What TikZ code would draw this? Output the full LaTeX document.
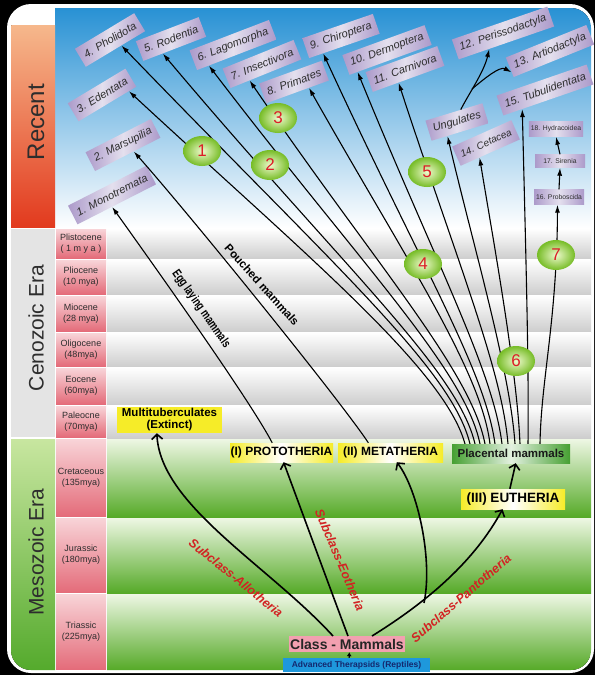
\documentclass[tikz,border=0pt]{standalone}
\usepackage{fontspec}
\setmainfont{Liberation Sans}
\usetikzlibrary{shapes.geometric,arrows.meta,calc}
\newcommand\myfs[1]{\fontsize{#1}{#1}\selectfont}
\definecolor{skyT}{RGB}{40,145,212}
\definecolor{skyM}{RGB}{130,190,232}
\definecolor{recT}{RGB}{246,184,140}
\definecolor{recB}{RGB}{226,58,30}
\definecolor{cenL}{RGB}{228,228,228}
\definecolor{mesT}{RGB}{200,230,160}
\definecolor{mesB}{RGB}{84,170,44}
\definecolor{pinkT}{RGB}{248,212,216}
\definecolor{pinkB}{RGB}{228,108,122}
\definecolor{grayB}{RGB}{205,205,205}
\definecolor{grnT}{RGB}{238,247,228}
\definecolor{grnM}{RGB}{160,210,110}
\definecolor{grnB}{RGB}{86,170,40}
\definecolor{lavD}{RGB}{172,154,202}
\definecolor{lavL}{RGB}{228,224,238}
\definecolor{ballI}{RGB}{238,250,205}
\definecolor{ballO}{RGB}{118,188,38}
\definecolor{numred}{RGB}{220,30,40}
\definecolor{ylw}{RGB}{246,236,40}
\definecolor{plg}{RGB}{70,160,50}
\definecolor{clspink}{RGB}{242,160,176}
\definecolor{thblue}{RGB}{30,152,220}
\definecolor{thtext}{RGB}{20,40,110}
\definecolor{subred}{RGB}{210,35,35}
\definecolor{txtg}{RGB}{45,45,45}
\begin{document}
\begin{tikzpicture}[x=1pt,y=-1pt,
  lbl/.style={left color=lavD, right color=lavD, middle color=lavL, text=txtg,
    font=\itshape\myfs{11}, inner xsep=5pt, inner ysep=0pt, minimum height=21pt},
  sbox/.style={left color=lavD, right color=lavD, middle color=lavL, text=txtg,
    font=\myfs{6.8}, inner xsep=2pt, inner ysep=0pt, minimum width=50pt, minimum height=15pt},
  circ/.style={ellipse, inner color=ballI, outer color=ballO, minimum width=38pt,
    minimum height=30pt, inner sep=0pt, text=numred, font=\myfs{17}},
  fan/.style={line width=1.1pt, -{Latex[length=8pt,width=5pt]}},
  thk/.style={line width=1.6pt, -{Straight Barb[length=5pt,width=11pt,line width=1.6pt]}},
  ybox/.style={left color=ylw, right color=ylw, middle color=white, text=black,
    font=\bfseries\myfs{12}, inner sep=0pt, minimum height=19pt},
  stg/.style={align=center, font=\fontsize{9}{11}\selectfont, text=txtg, inner sep=0pt},
  era/.style={rotate=90, font=\myfs{21}, text=txtg},
  sub/.style={font=\bfseries\itshape\myfs{12.5}, text=subred, inner sep=0pt},
  mid/.style={font=\bfseries\myfs{10}, text=black, inner sep=0pt}]
\useasboundingbox (0,0) rectangle (595,675);
\fill[black] (0,0) rectangle (595,675);
\fill[white, rounded corners=24pt] (7,4) rectangle (594,673);
\begin{scope}
\clip[rounded corners=20pt] (11,8) rectangle (591,670);
% backgrounds
\fill[top color=skyT, middle color=skyM, bottom color=white] (55,8) rectangle (591,228);
\fill[top color=recT, bottom color=recB] (11,25) rectangle (55,227);
\fill[cenL] (11,229) rectangle (55,437);
\fill[top color=mesT, bottom color=mesB] (11,439) rectangle (55,670);
\foreach \a/\b in {228/259,259/295,295/332,332/367,367/405,405/438}{
  \fill[top color=pinkT, bottom color=pinkB] (56,\a+1) rectangle (106,\b-1);
  \fill[top color=white, bottom color=grayB] (107,\a+0.5) rectangle (591,\b);
}
\foreach \a/\b in {438/517,517/593,593/670}{
  \fill[top color=pinkT, bottom color=pinkB] (56,\a+1) rectangle (106,\b-1);
  \fill[top color=grnT, middle color=grnM, bottom color=grnB] (107,\a+1) rectangle (591,\b);
}
\end{scope}
% era labels
\node[era, font=\myfs{24}] (recent) at (36,122) {Recent};
\node[era] (ceno) at (36,328) {Cenozoic Era};
\node[era] (meso) at (36,552) {Mesozoic Era};
% stage labels
\node[stg] (st1) at (81,243.5) {Plistocene\\( 1 m y a )};
\node[stg] (st2) at (81,277) {Pliocene\\(10 mya)};
\node[stg] (st3) at (81,313.5) {Miocene\\(28 mya)};
\node[stg] (st4) at (81,349.5) {Oligocene\\(48mya)};
\node[stg] (st5) at (81,386) {Eocene\\(60mya)};
\node[stg] (st6) at (81,421.5) {Paleocne\\(70mya)};
\node[stg] (st7) at (81,477.5) {Cretaceous\\(135mya)};
\node[stg] (st8) at (81,555) {Jurassic\\(180mya)};
\node[stg] (st9) at (81,631.5) {Triassic\\(225mya)};
% order labels
\node[lbl, rotate=27] (mono) at (112,195) {1. Monotremata};
\node[lbl, rotate=27] (mars) at (123,145) {2. Marsupilia};
\node[lbl, rotate=31] (eden) at (102,95) {3. Edentata};
\node[lbl, rotate=31] (phol) at (110,40) {4. Pholidota};
\node[lbl, rotate=21] (rode) at (171,39) {5. Rodentia};
\node[lbl, rotate=21] (lago) at (233,45) {6. Lagomorpha};
\node[lbl, rotate=22] (inse) at (262,64) {7. Insectivora};
\node[lbl, rotate=20] (prim) at (294,82) {8. Primates};
\node[lbl, rotate=19] (chir) at (341,36) {9. Chiroptera};
\node[lbl, rotate=20] (derm) at (387,50) {10. Dermoptera};
\node[lbl, rotate=20] (carn) at (405,69) {11. Carnivora};
\node[lbl, rotate=19] (peri) at (503,33) {12. Perissodactyla};
\node[lbl, rotate=22] (arti) at (550,51) {13. Artiodactyla};
\node[lbl, rotate=24, font=\itshape\myfs{10}] (ceta) at (486,143) {14. Cetacea};
\node[lbl, rotate=19] (tubu) at (545,90) {15. Tubulidentata};
\node[lbl, rotate=17] (ungu) at (457,122) {Ungulates};
\node[sbox] (prob) at (559,197) {16. Proboscida};
\node[sbox, minimum height=13pt] (sire) at (560,161) {17. Sirenia};
\node[sbox] (hydr) at (556,129) {18. Hydracoidea};
% tips
\coordinate (tMono) at ($(mono.south west)!0.44!(mono.south east)$);
\coordinate (tMars) at ($(mars.south west)!0.59!(mars.south east)$);
\coordinate (tEden) at ($(eden.south west)!0.87!(eden.south east)$);
\coordinate (tPhol) at ($(phol.south west)!0.60!(phol.south east)$);
\coordinate (tRode) at ($(rode.south west)!0.31!(rode.south east)$);
\coordinate (tLago) at ($(lago.south west)!0.15!(lago.south east)$);
\coordinate (tInse) at ($(inse.south west)!0.27!(inse.south east)$);
\coordinate (tPrim) at ($(prim.south west)!0.68!(prim.south east)$);
\coordinate (tChir) at ($(chir.south west)!0.20!(chir.south east)$);
\coordinate (tDerm) at ($(derm.south west)!0.10!(derm.south east)$);
\coordinate (tCarn) at ($(carn.south west)!0.36!(carn.south east)$);
\coordinate (tUngu) at ($(ungu.south west)!0.28!(ungu.south east)$);
\coordinate (tCeta) at ($(ceta.south west)!0.32!(ceta.south east)$);
\coordinate (tTubu) at ($(tubu.south west)!0.21!(tubu.south east)$);
\coordinate (tProb) at ($(prob.south west)!0.47!(prob.south east)$);
\coordinate (tPeri) at ($(peri.south west)!0.32!(peri.south east)$);
\coordinate (tArti) at ($(arti.west)!0.5!(arti.south west)$);
\coordinate (uTop) at ($(ungu.north west)!0.62!(ungu.north east)$);
\coordinate (ubr) at (472,89);
% starts on placental
\coordinate (s1) at (465,444);
\coordinate (s2) at (470,444);
\coordinate (s3) at (475,444);
\coordinate (s4) at (480,444);
\coordinate (s5) at (485,444);
\coordinate (s6) at (490,444);
\coordinate (s7) at (495,444);
\coordinate (s8) at (502,444);
\coordinate (s9) at (508,444);
\coordinate (s10) at (515,444);
\coordinate (s11) at (520,444);
\coordinate (s12) at (528,444);
\coordinate (s13) at (540,444);
% fan lines
\draw[fan] (s1) .. controls (445,370) and (309,258) .. (tEden);
\draw[fan] (s2) .. controls (452,370) and (340,272) .. (tPhol);
\draw[fan] (s3) .. controls (458,370) and (345,270) .. (tRode);
\draw[fan] (s4) .. controls (465,370) and (362,266) .. (tLago);
\draw[fan] (s5) .. controls (471,370) and (374,263) .. (tInse);
\draw[fan] (s6) .. controls (481,370) and (405,258) .. (tPrim);
\draw[fan] (s7) .. controls (485,370) and (423,270) .. (tChir);
\draw[fan] (s8) .. controls (493,370) and (436,264) .. (tDerm);
\draw[fan] (s9) .. controls (502,370) and (457,261) .. (tCarn);
\draw[fan] (s10) .. controls (510,370) and (473,245) .. (tUngu);
\draw[fan] (s11) .. controls (517,370) and (493,239) .. (tCeta);
\draw[fan] (s12) .. controls (529,370) and (526,260) .. (tTubu);
\draw[fan] (s13) .. controls (541,380) and (557,320) .. (tProb);
\draw[fan] (prob.north) -- (sire.south);
\draw[fan] (sire.north) -- (hydr.south);
\draw[fan] (uTop) .. controls (468,95) and (484,72) .. (tPeri);
\draw[fan] (ubr) .. controls (485,78) and (500,66) .. (tArti);
% bottom nodes
\node[fill=ylw, text=black, font=\bfseries\fontsize{11.5}{12}\selectfont, align=center,
  inner sep=0pt, minimum width=105pt, minimum height=26pt] (multi) at (169.5,420)
  {Multituberculates\\(Extinct)};
\node[ybox, minimum width=103pt] (proto) at (281.5,452.5) {(I) PROTOTHERIA};
\node[ybox, minimum width=105pt] (meta) at (390.5,452.5) {(II) METATHERIA};
\node[left color=plg, right color=plg, middle color=white!85!plg, text=black!90,
  font=\bfseries\myfs{11.5}, inner sep=0pt, minimum width=118pt, minimum height=19pt]
  (plac) at (511,453.5) {Placental mammals};
\node[ybox, font=\bfseries\myfs{13.5}, minimum width=104pt, minimum height=20pt] (euth) at (513,499) {(III) EUTHERIA};
\node[fill=clspink, text=black!85, font=\bfseries\myfs{14}, inner sep=0pt, minimum width=116pt,
  minimum height=16pt] (cls) at (347,644) {Class - Mammals};
\node[fill=thblue, text=thtext, font=\bfseries\myfs{8.5}, inner sep=0pt, minimum width=147pt,
  minimum height=14pt] (ther) at (356.5,665) {Advanced Therapsids (Reptiles)};
% egg laying / pouched
\coordinate (pTop) at ($(proto.north west)!0.41!(proto.north east)$);
\coordinate (mTop) at ($(meta.north west)!0.29!(meta.north east)$);
\draw[fan] (pTop) .. controls (250,400) and (150,260) .. (tMono);
\draw[fan] (mTop) .. controls (340,400) and (190,215) .. (tMars);
\node[mid, rotate=-55] (egg) at (201,309) {\scalebox{0.74}[1]{\bfseries\myfs{12.5}Egg laying mammals}};
\node[mid, rotate=-48, font=\bfseries\myfs{11.5}] (pouch) at (262,285) {Pouched mammals};
% class arrows
\coordinate (cA) at (333,636);
\coordinate (cE) at (348,636);
\coordinate (cP) at (372,636);
\coordinate (fork) at (424,603);
\coordinate (tMulti) at ($(multi.south west)!0.38!(multi.south east)$);
\coordinate (tProto) at ($(proto.south west)!0.52!(proto.south east)$);
\coordinate (tMeta) at ($(meta.south west)!0.56!(meta.south east)$);
\coordinate (tEuth) at ($(euth.south west)!0.40!(euth.south east)$);
\draw[thk] (cA) .. controls (268,565) and (160,505) .. (tMulti);
\draw[thk] (cE) .. controls (327,580) and (305,520) .. (tProto);
\draw[thk] (cP) .. controls (430,600) and (475,560) .. (tEuth);
\draw[thk] (fork) .. controls (433,560) and (418,490) .. (tMeta);
\draw[thk] ($(euth.north west)!0.47!(euth.north east)$) -- ($(plac.south west)!0.54!(plac.south east)$);
\draw[line width=1.2pt, -{Latex[length=4pt,width=5pt]}] ($(ther.north west)!0.45!(ther.north east)$) -- ($(cls.south west)!0.52!(cls.south east)$);
% subclass labels
\node[sub, rotate=-39] (allo) at (236,578) {Subclass-Allotheria};
\node[sub, rotate=-67] (eoth) at (340,560) {Subclass-Eotheria};
\node[sub, rotate=41] (pant) at (461,598) {Subclass-Pantotheria};
% circles
\node[circ] (c1) at (202,151) {1};
\node[circ] (c2) at (270,165) {2};
\node[circ] (c3) at (278,118) {3};
\node[circ] (c4) at (423,264) {4};
\node[circ] (c5) at (427,172) {5};
\node[circ] (c6) at (516,361) {6};
\node[circ] (c7) at (556,255) {7};
\end{tikzpicture}
\end{document}
